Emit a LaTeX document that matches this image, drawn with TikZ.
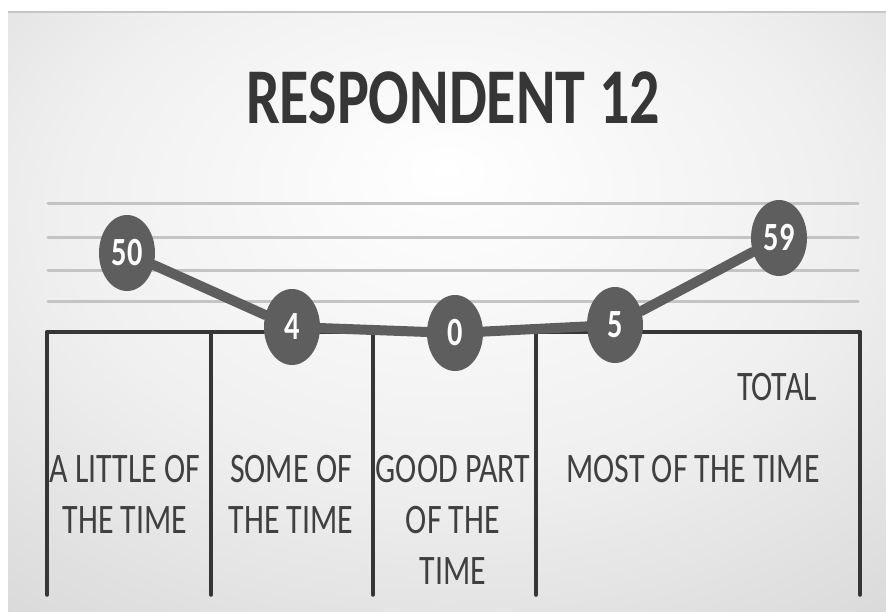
\documentclass[tikz,border=0pt]{standalone}
\usepackage{fontspec}
\setmainfont{Carlito}[FakeStretch=0.76]
\usetikzlibrary{shapes.geometric}
\definecolor{markgray}{HTML}{5E5E5E}
\definecolor{axisgray}{HTML}{363636}
\definecolor{gridgray}{HTML}{C4C4C4}
\definecolor{textgray}{HTML}{404040}
\pgfdeclareradialshading{panelshade}{\pgfpoint{0bp}{12bp}}{color(0bp)=(white); color(22bp)=(black!6); color(45bp)=(black!17); color(75bp)=(black!24)}
\newcommand\axisy{332}
\newcommand\axisleft{47}
\newcommand\axisright{860}
\newcommand\axisbottom{595}
\newcommand\catsize{\fontsize{42}{51}\selectfont}

\begin{document}
\begin{tikzpicture}[x = 1pt, y = -1pt, line cap = round,
	valuedot/.style = {ellipse, fill = markgray, minimum width = 56pt, minimum height = 76pt, inner sep = 0pt, text = white, font = \fontsize{40}{40}\selectfont\bfseries},
	catlabel/.style = {align = center, text = textgray, font = \catsize, inner sep = 0pt}]
	\useasboundingbox (0, 0) rectangle (886, 611);

	% Hintergrund:
	\shade [shading = panelshade] (8, 12) rectangle (886, 611);
	\draw [gray!45, line width = 2pt, line cap = butt] (8, 12) -- (886, 12);

	% Titel:
	\node [anchor = base, text = axisgray, font = \fontsize{79}{79}\selectfont\bfseries] (title) at (453, 123) {RESPONDENT 12};

	% Hilfslinien:
	\foreach \y in {203, 237, 270, 301} {
		\draw [gridgray, line width = 3pt] (48, \y) -- (858, \y);
	}

	% Achse:
	\draw [axisgray, line width = 4pt] (\axisleft, \axisy) -- (\axisright, \axisy);
	\foreach \x in {47, 211, 373, 536, 860} {
		\draw [axisgray, line width = 3.5pt] (\x, \axisy) -- (\x, \axisbottom);
	}

	% Werte:
	\foreach \x/\y/\val in {127/253/50, 292/327/4, 455/333/0, 615/325/5, 779/238/59} {
		\node [valuedot] (v\val) at (\x, \y) {\val};
	}
	\draw [markgray, line width = 10pt] (v50) -- (v4) -- (v0) -- (v5) -- (v59);

	% Beschriftung:
	\foreach \x/\cat [count = \i] in {125/{A LITTLE OF\\THE TIME}, 291/{SOME OF\\THE TIME}, 453/{GOOD PART\\OF THE\\TIME}, 693/{MOST OF THE TIME}} {
		\node [catlabel, anchor = north] (cat\i) at (\x, 455) {\cat};
	}
	\node [catlabel, anchor = base] (total) at (777, 400) {TOTAL};
\end{tikzpicture}
\end{document}
